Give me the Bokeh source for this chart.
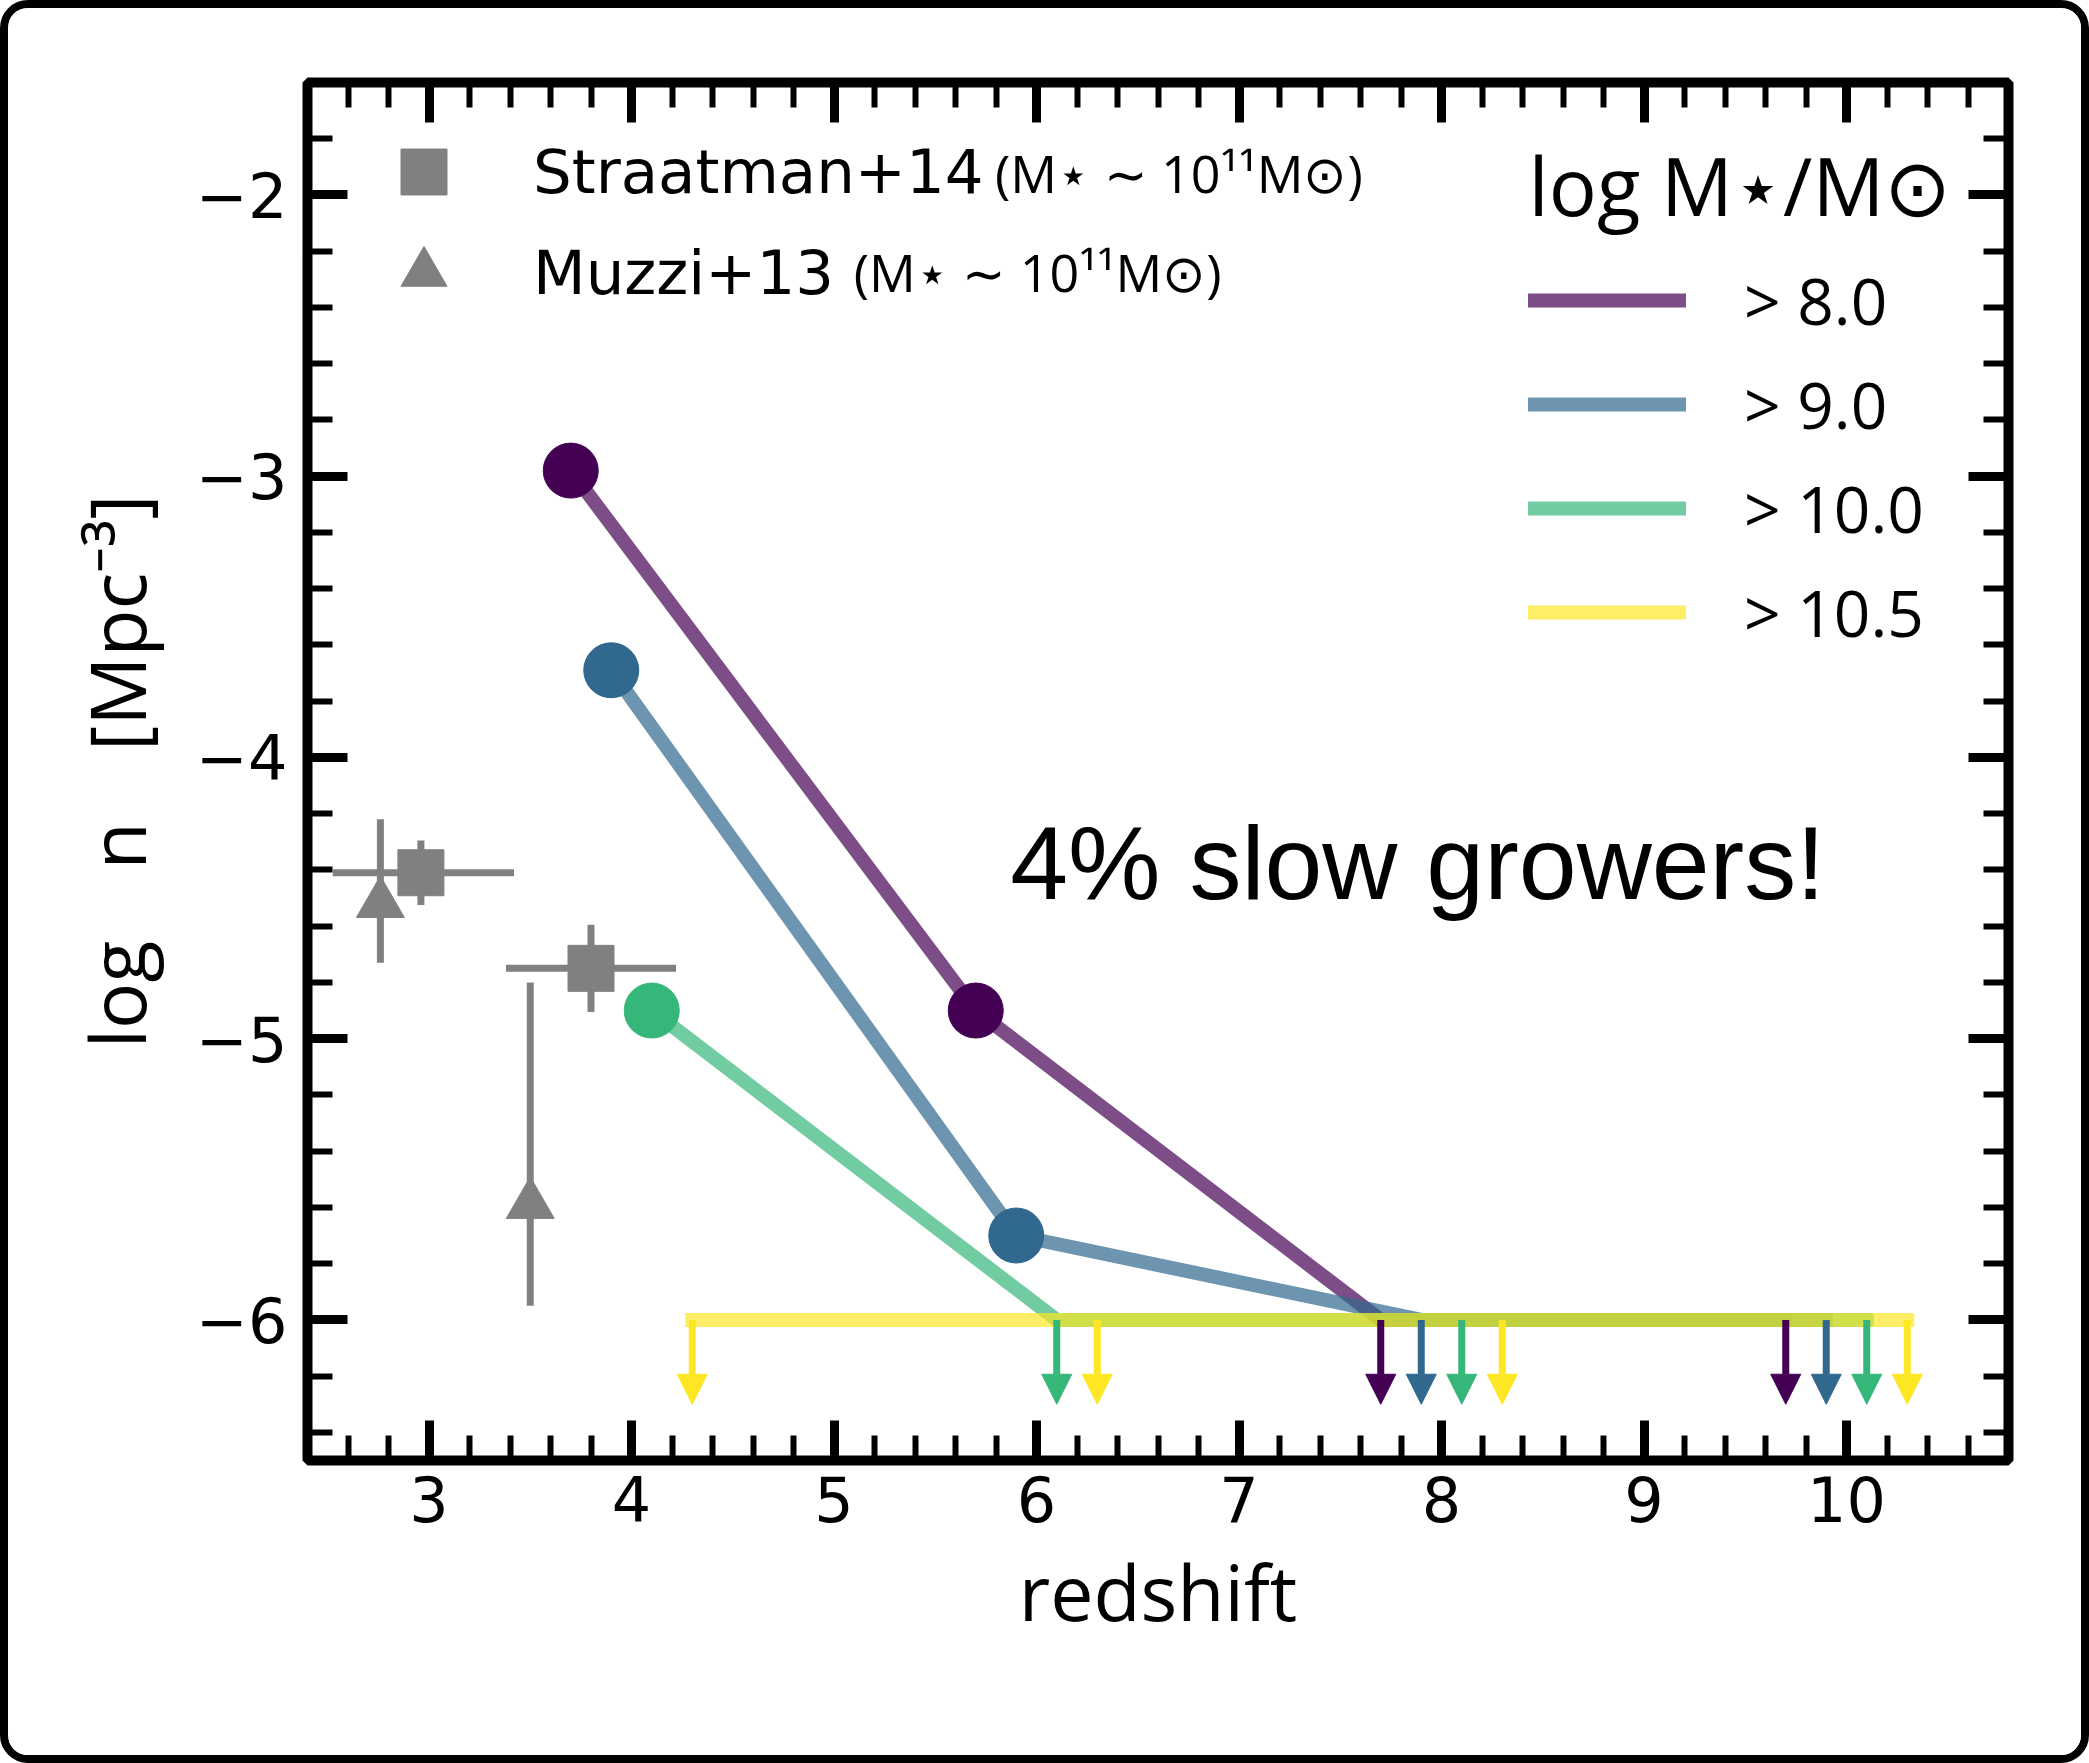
import numpy as np
from bokeh.plotting import figure
from bokeh.models import (Range1d, LinearAxis, FixedTicker, CustomJSTickFormatter,
                          ColumnDataSource, Legend, LegendItem, Label, Arrow, NormalHead)
from bokeh.embed import file_html
from bokeh.resources import INLINE

# ---------------- data ----------------
mass_labels = ["> 8.0", "> 9.0", "> 10.0", "> 10.5"]
mass_colors = ["#440154", "#31688e", "#35b779", "#fde725"]

z_80 = [3.7, 5.7, 7.7, 9.7]
logn_80 = [-2.98, -4.90, -6.0, -6.0]
uplim_80 = [False, False, True, True]

z_90 = [3.9, 5.9, 7.9, 9.9]
logn_90 = [-3.69, -5.70, -6.0, -6.0]
uplim_90 = [False, False, True, True]

z_100 = [4.1, 6.1, 8.1, 10.1]
logn_100 = [-4.90, -6.0, -6.0, -6.0]
uplim_100 = [False, True, True, True]

z_105 = [4.3, 6.3, 8.3, 10.3]
logn_105 = [-6.0, -6.0, -6.0, -6.0]
uplim_105 = [True, True, True, True]

straatman_z = [2.96, 3.80]
straatman_logn = [-4.41, -4.75]
straatman_z_err_lo = [0.435, 0.42]
straatman_z_err_hi = [0.46, 0.42]
straatman_logn_err = [0.115, 0.155]

muzzi_z = [2.76, 3.50]
muzzi_logn = [-4.52, -5.59]
muzzi_logn_err_lo = [0.21, 0.36]
muzzi_logn_err_hi = [0.30, 0.79]

x_major_ticks = [3, 4, 5, 6, 7, 8, 9, 10]
y_major_ticks = [-6, -5, -4, -3, -2]

# ---------------- styles ----------------
GRAY = "#808080"
ARROW_LEN = 0.3
TICK_FONT = "DejaVu Sans"
LABEL_FONT = "Open Sans"

x_minor = [round(v, 1) for v in np.arange(2.6, 10.7, 0.2) if abs(v - round(v)) > 1e-6]
y_minor = [round(v, 1) for v in np.arange(-6.4, -1.7, 0.2) if abs(v - round(v)) > 1e-6]

p = figure(width=2089, height=1763,
           x_range=Range1d(2.4, 10.8), y_range=Range1d(-6.5, -1.6),
           output_backend="svg", toolbar_location=None,
           min_border_left=299, min_border_right=89,
           min_border_top=74, min_border_bottom=311)
p.styles = {"border": "8px solid black", "border-radius": "28px", "overflow": "hidden"}
p.grid.visible = False
p.outline_line_color = "black"
p.outline_line_width = 10
p.background_fill_color = "white"
p.border_fill_color = "white"

xt = FixedTicker(ticks=x_major_ticks, minor_ticks=x_minor)
yt = FixedTicker(ticks=y_major_ticks, minor_ticks=y_minor)
minus_fmt = CustomJSTickFormatter(code="var t = Math.round(tick); return (t < 0 ? '\u2212' : '') + Math.abs(t).toString();")
blank_fmt = CustomJSTickFormatter(code="return '';")


def style_axis(ax):
    ax.axis_line_color = None
    ax.major_tick_in = 40
    ax.major_tick_out = 0
    ax.minor_tick_in = 25
    ax.minor_tick_out = 0
    ax.major_tick_line_width = 9
    ax.minor_tick_line_width = 6
    ax.major_tick_line_color = "black"
    ax.minor_tick_line_color = "black"
    ax.major_label_text_font = TICK_FONT
    ax.major_label_text_font_size = "62px"
    ax.major_label_text_color = "black"
    ax.axis_label_text_font = LABEL_FONT
    ax.axis_label_text_font_size = "77px"
    ax.axis_label_text_font_style = "normal"
    ax.axis_label_text_color = "black"


xa = p.xaxis[0]
ya = p.yaxis[0]
xa.ticker = xt
ya.ticker = yt
xa.formatter = minus_fmt
ya.formatter = minus_fmt
style_axis(xa)
style_axis(ya)
xa.major_label_standoff = 15
ya.major_label_standoff = 20
xa.axis_label = "redshift"
ya.axis_label = "log\u2002\u2009 n\u2002\u2009 [Mpc\u207b\u00b3]"
xa.axis_label_standoff = 14
ya.axis_label_standoff = 24

top_ax = LinearAxis(ticker=xt, formatter=blank_fmt)
right_ax = LinearAxis(ticker=yt, formatter=blank_fmt)
for ax in (top_ax, right_ax):
    style_axis(ax)
    ax.major_label_text_font_size = "8px"
    ax.major_label_standoff = 0
p.add_layout(top_ax, "above")
p.add_layout(right_ax, "right")

# ---------------- gray literature points ----------------
s_src = ColumnDataSource(dict(
    z=straatman_z, n=straatman_logn,
    zl=[z - e for z, e in zip(straatman_z, straatman_z_err_lo)],
    zh=[z + e for z, e in zip(straatman_z, straatman_z_err_hi)],
    nl=[n - e for n, e in zip(straatman_logn, straatman_logn_err)],
    nh=[n + e for n, e in zip(straatman_logn, straatman_logn_err)]))
m_src = ColumnDataSource(dict(
    z=muzzi_z, n=muzzi_logn,
    nl=[n - e for n, e in zip(muzzi_logn, muzzi_logn_err_lo)],
    nh=[n + e for n, e in zip(muzzi_logn, muzzi_logn_err_hi)]))

p.segment(x0="zl", y0="n", x1="zh", y1="n", source=s_src, line_color=GRAY, line_width=7)
p.segment(x0="z", y0="nl", x1="z", y1="nh", source=s_src, line_color=GRAY, line_width=7)
p.segment(x0="z", y0="nl", x1="z", y1="nh", source=m_src, line_color=GRAY, line_width=7)
sq_r = p.scatter("z", "n", source=s_src, marker="square", size=46,
                 fill_color=GRAY, line_color=GRAY)
tri_r = p.scatter("z", "n", source=m_src, marker="triangle", size=48,
                  fill_color=GRAY, line_color=GRAY)

# ---------------- model series ----------------
series = [(z_80, logn_80, uplim_80), (z_90, logn_90, uplim_90),
          (z_100, logn_100, uplim_100), (z_105, logn_105, uplim_105)]
line_renderers = []
for (zs, ns, lims), col in zip(series, mass_colors):
    lr = p.line(zs, ns, line_color=col, line_alpha=0.7, line_width=14,
                line_cap="square", line_join="round")
    line_renderers.append(lr)

for (zs, ns, lims), col in zip(series, mass_colors):
    zd = [z for z, l in zip(zs, lims) if not l]
    nd = [n for n, l in zip(ns, lims) if not l]
    if zd:
        p.scatter(zd, nd, marker="circle", size=55, fill_color=col, line_color=col)
    zu = [z for z, l in zip(zs, lims) if l]
    nu = [n for n, l in zip(ns, lims) if l]
    a_src = ColumnDataSource(dict(x=zu, y=nu, ye=[n - ARROW_LEN for n in nu]))
    p.add_layout(Arrow(end=NormalHead(size=30, fill_color=col, line_color=col, line_width=1),
                       x_start="x", y_start="y", x_end="x", y_end="ye",
                       source=a_src, line_color=col, line_width=7))

# ---------------- legends ----------------
def lit_legend(label, renderer, y_loc):
    return Legend(items=[LegendItem(label=label, renderers=[renderer])],
                  location=(59, y_loc), glyph_width=115, glyph_height=115,
                  label_height=115, spacing=0, padding=0, label_standoff=52,
                  label_text_font="DejaVu Sans", label_text_font_size="61px",
                  label_text_color="black",
                  border_line_color=None, background_fill_alpha=0)


p.add_layout(lit_legend("Straatman+14", sq_r, 1231))
p.add_layout(lit_legend("Muzzi+13", tri_r, 1130))

leg_mass = Legend(items=[LegendItem(label=l, renderers=[r])
                         for l, r in zip(mass_labels, line_renderers)],
                  location=(1221, 796), glyph_width=158, glyph_height=104,
                  label_height=104, spacing=0, padding=0, label_standoff=58,
                  label_text_font=LABEL_FONT, label_text_font_size="64px",
                  label_text_color="black",
                  border_line_color=None, background_fill_alpha=0)
p.add_layout(leg_mass)

p.add_layout(Label(x=8.43, y=-1.962, text="log M\u22c6/M\u2299", text_font=LABEL_FONT,
                   text_font_size="80px", text_baseline="alphabetic", text_color="black"))
p.add_layout(Label(x=5.795, y=-1.919, text="(M\u22c6 \u223c 10\u00b9\u00b9M\u2299)",
                   text_font=LABEL_FONT, text_font_size="52px",
                   text_baseline="alphabetic", text_color="black"))
p.add_layout(Label(x=5.097, y=-2.271, text="(M\u22c6 \u223c 10\u00b9\u00b9M\u2299)",
                   text_font=LABEL_FONT, text_font_size="52px",
                   text_baseline="alphabetic", text_color="black"))
p.add_layout(Label(x=5.87, y=-4.377, text="4% slow growers!", text_font="Liberation Sans",
                   text_font_size="104px", text_baseline="alphabetic", text_color="black"))

open("out.html", "w").write(file_html(p, INLINE))
